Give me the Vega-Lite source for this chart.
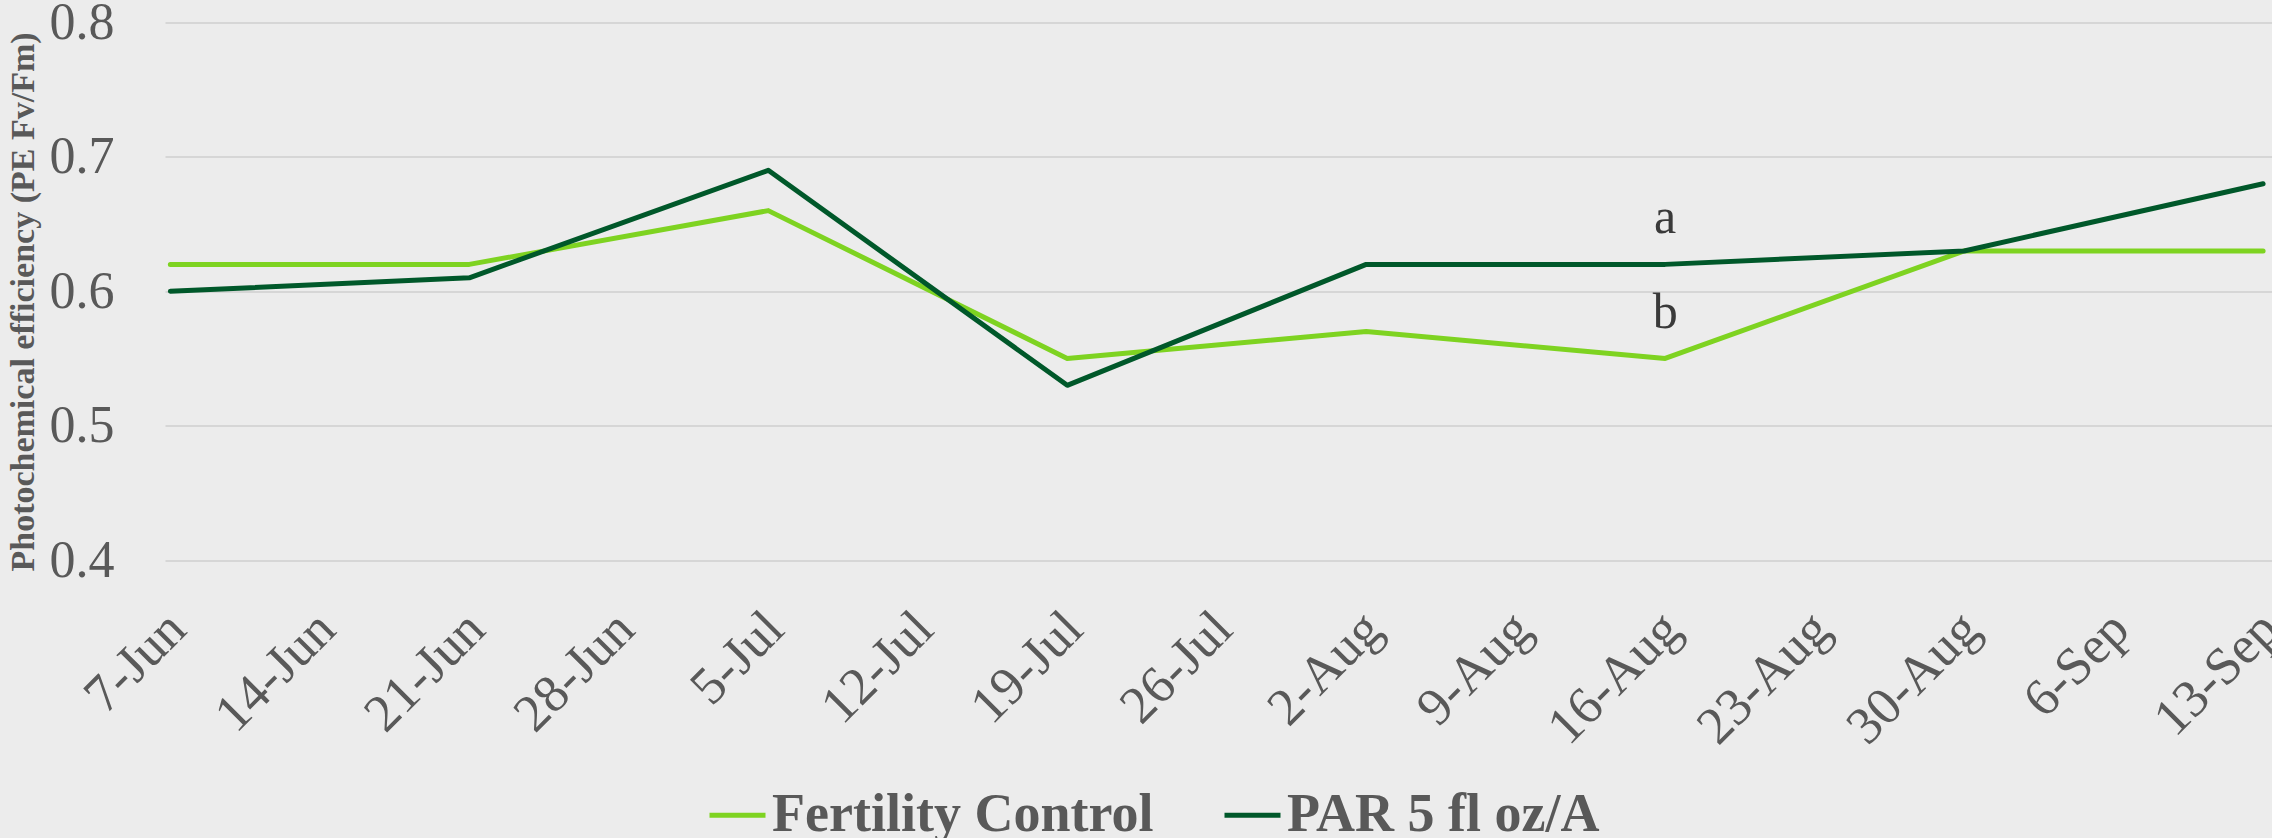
{
  "$schema": "https://vega.github.io/schema/vega-lite/v6.json",
  "width": 2107,
  "height": 537.5,
  "autosize": "none",
  "padding": {"left": 165, "top": 22.5, "right": 0, "bottom": 278},
  "background": "#ececec",
  "config": {"view": {"stroke": null}, "font": "Liberation Serif"},
  "datasets": {
    "series": [
      {"date": "2019-06-07", "series": "Fertility Control", "value": 0.62},
      {"date": "2019-06-21", "series": "Fertility Control", "value": 0.62},
      {"date": "2019-07-05", "series": "Fertility Control", "value": 0.66},
      {"date": "2019-07-19", "series": "Fertility Control", "value": 0.55},
      {"date": "2019-08-02", "series": "Fertility Control", "value": 0.57},
      {"date": "2019-08-16", "series": "Fertility Control", "value": 0.55},
      {"date": "2019-08-30", "series": "Fertility Control", "value": 0.63},
      {"date": "2019-09-13", "series": "Fertility Control", "value": 0.63},
      {"date": "2019-06-07", "series": "PAR 5 fl oz/A", "value": 0.60},
      {"date": "2019-06-21", "series": "PAR 5 fl oz/A", "value": 0.61},
      {"date": "2019-07-05", "series": "PAR 5 fl oz/A", "value": 0.69},
      {"date": "2019-07-19", "series": "PAR 5 fl oz/A", "value": 0.53},
      {"date": "2019-08-02", "series": "PAR 5 fl oz/A", "value": 0.62},
      {"date": "2019-08-16", "series": "PAR 5 fl oz/A", "value": 0.62},
      {"date": "2019-08-30", "series": "PAR 5 fl oz/A", "value": 0.63},
      {"date": "2019-09-13", "series": "PAR 5 fl oz/A", "value": 0.68}
    ],
    "letters": [
      {"date": "2019-08-16", "value": 0.643, "label": "a"},
      {"date": "2019-08-16", "value": 0.573, "label": "b"}
    ]
  },
  "layer": [
    {
      "data": {"name": "series"},
      "mark": {"type": "line", "strokeWidth": 5, "strokeCap": "round", "strokeJoin": "round"},
      "encoding": {
        "x": {
          "field": "date",
          "type": "temporal",
          "scale": {
            "type": "utc",
            "domain": [
              {"year": 2019, "month": 6, "date": 6, "hours": 18, "utc": true},
              {"year": 2019, "month": 9, "date": 13, "hours": 10, "utc": true}
            ]
          },
          "axis": {
            "title": null,
            "values": [
              {"year": 2019, "month": 6, "date": 7, "utc": true},
              {"year": 2019, "month": 6, "date": 14, "utc": true},
              {"year": 2019, "month": 6, "date": 21, "utc": true},
              {"year": 2019, "month": 6, "date": 28, "utc": true},
              {"year": 2019, "month": 7, "date": 5, "utc": true},
              {"year": 2019, "month": 7, "date": 12, "utc": true},
              {"year": 2019, "month": 7, "date": 19, "utc": true},
              {"year": 2019, "month": 7, "date": 26, "utc": true},
              {"year": 2019, "month": 8, "date": 2, "utc": true},
              {"year": 2019, "month": 8, "date": 9, "utc": true},
              {"year": 2019, "month": 8, "date": 16, "utc": true},
              {"year": 2019, "month": 8, "date": 23, "utc": true},
              {"year": 2019, "month": 8, "date": 30, "utc": true},
              {"year": 2019, "month": 9, "date": 6, "utc": true},
              {"year": 2019, "month": 9, "date": 13, "utc": true}
            ],
            "format": "%-d-%b",
            "labelAngle": -45,
            "labelFontSize": 53,
            "labelColor": "#595959",
            "labelFont": "Liberation Serif",
            "labelOverlap": false,
            "labelBound": false,
            "labelFlush": false,
            "grid": false,
            "ticks": false,
            "domain": false,
            "labelPadding": 42,
            "labelOffset": -12
          }
        },
        "y": {
          "field": "value",
          "type": "quantitative",
          "scale": {"domain": [0.4, 0.8], "nice": false, "zero": false},
          "axis": {
            "values": [0.4, 0.5, 0.6, 0.7, 0.8],
            "format": ".1f",
            "labelFontSize": 52,
            "labelColor": "#595959",
            "labelFont": "Liberation Serif",
            "labelPadding": 51,
            "ticks": false,
            "domain": false,
            "gridColor": "#d6d6d6",
            "gridWidth": 2,
            "title": "Photochemical efficiency (PE Fv/Fm)",
            "titleFont": "Liberation Serif",
            "titleFontSize": 34,
            "titleFontWeight": "bold",
            "titleColor": "#595959",
            "titleX": -142,
            "titleY": 279,
            "titleAngle": -90,
            "titleAlign": "center",
            "titleBaseline": "middle"
          }
        },
        "color": {
          "field": "series",
          "type": "nominal",
          "scale": {"domain": ["Fertility Control", "PAR 5 fl oz/A"], "range": ["#7ED321", "#00582A"]},
          "legend": {
            "title": null,
            "orient": "none",
            "legendX": 542,
            "legendY": 762,
            "direction": "horizontal",
            "symbolType": "stroke",
            "symbolSize": 3136,
            "symbolStrokeWidth": 5,
            "labelFontSize": 54,
            "labelFontWeight": "bold",
            "labelColor": "#595959",
            "labelFont": "Liberation Serif",
            "columnPadding": 60,
            "labelOffset": 4,
            "labelLimit": 1000
          }
        }
      }
    },
    {
      "data": {"name": "letters"},
      "mark": {"type": "text", "fontSize": 50, "color": "#3a3a3a", "baseline": "alphabetic", "font": "Liberation Serif"},
      "encoding": {
        "x": {"field": "date", "type": "temporal"},
        "y": {"field": "value", "type": "quantitative"},
        "text": {"field": "label"}
      }
    }
  ]
}
